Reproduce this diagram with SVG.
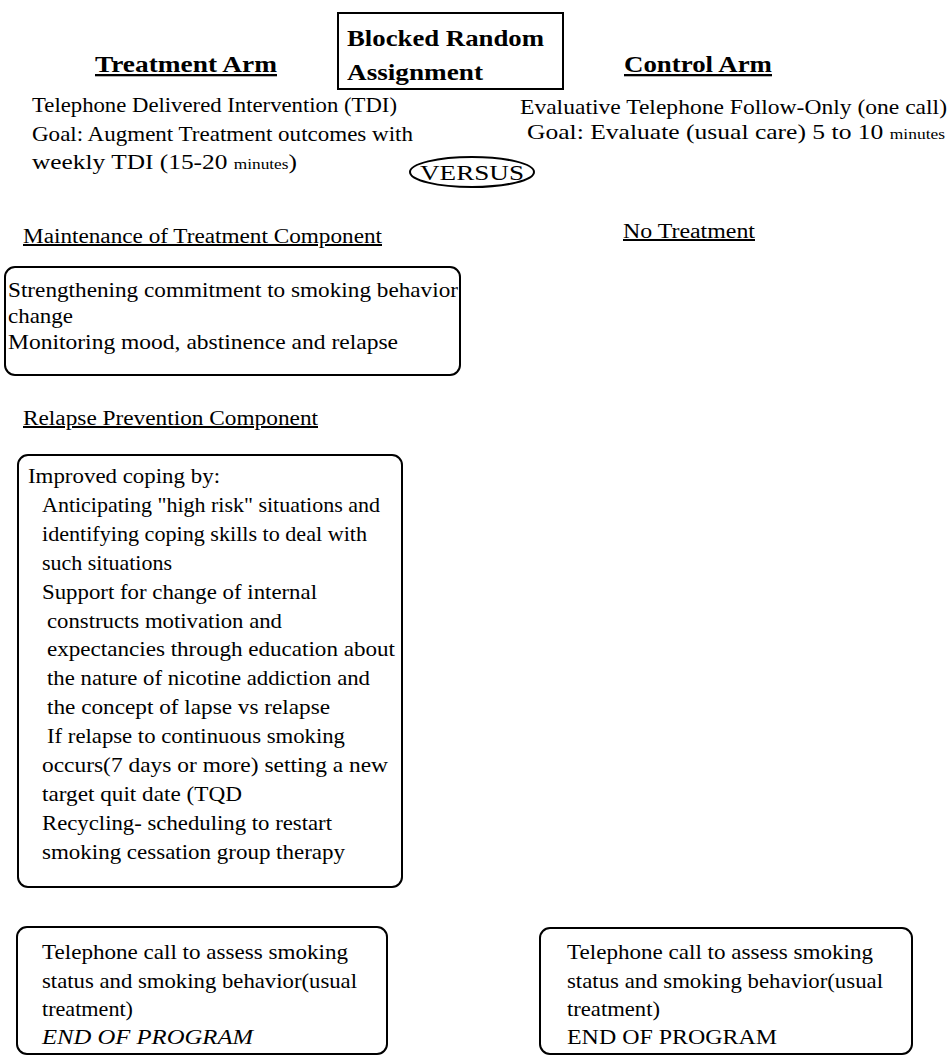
<svg xmlns="http://www.w3.org/2000/svg" width="950" height="1056" viewBox="0 0 950 1056">
  <style>
    text { font-family: "Liberation Serif", "Times New Roman", serif; fill: #000; }
    .body { font-size: 22px; }
    .head { font-size: 23px; font-weight: bold; text-decoration: underline; }
    .title { font-size: 24px; font-weight: bold; }
    .sub { font-size: 20px; text-decoration: underline; }
    .small { font-size: 15px; }
    .box { fill: #fff; stroke: #000; stroke-width: 2; }
  </style>
  <rect width="950" height="1056" fill="#fff"/>

  <!-- central assignment box -->
  <g id="assignment">
    <rect x="338" y="13" width="225" height="76" fill="#fff" stroke="#000" stroke-width="2"/>
    <text class="title" x="347" y="46" textLength="197" lengthAdjust="spacingAndGlyphs">Blocked Random</text>
    <text class="title" x="347" y="80" textLength="136" lengthAdjust="spacingAndGlyphs">Assignment</text>
  </g>

  <!-- arm headings -->
  <g id="treatment-arm">
    <text class="head" x="95" y="72" textLength="182" lengthAdjust="spacingAndGlyphs">Treatment Arm</text>
    <text class="body" x="32" y="112" textLength="365" lengthAdjust="spacingAndGlyphs">Telephone Delivered Intervention (TDI)</text>
    <text class="body" x="32" y="141" textLength="381" lengthAdjust="spacingAndGlyphs">Goal:  Augment Treatment outcomes with</text>
    <text class="body" x="32" y="169" textLength="265" lengthAdjust="spacingAndGlyphs">weekly TDI (15-20 <tspan class="small">minutes</tspan>)</text>
  </g>

  <g id="control-arm">
    <text class="head" x="624" y="72" textLength="148" lengthAdjust="spacingAndGlyphs">Control Arm</text>
    <text class="body" x="520" y="114" textLength="427" lengthAdjust="spacingAndGlyphs">Evaluative Telephone Follow-Only  (one call)</text>
    <text class="body" x="527" y="139" textLength="418" lengthAdjust="spacingAndGlyphs">Goal:  Evaluate (usual care)  5 to 10 <tspan class="small">minutes</tspan></text>
  </g>

  <g id="versus">
    <ellipse cx="472" cy="172" rx="62" ry="15" fill="#fff" stroke="#000" stroke-width="2"/>
    <text class="body" x="472" y="180" text-anchor="middle" font-size="20" textLength="104" lengthAdjust="spacingAndGlyphs">VERSUS</text>
  </g>

  <!-- section labels -->
  <g id="maintenance-label">
    <text class="sub" x="23" y="243" textLength="359" lengthAdjust="spacingAndGlyphs">Maintenance of Treatment Component</text>
  </g>
  <g id="no-treatment">
    <text class="sub" x="623" y="238" textLength="132" lengthAdjust="spacingAndGlyphs">No Treatment</text>
  </g>

  <g id="maintenance">
    <rect class="box" x="5" y="267" width="455" height="108" rx="10"/>
    <text class="body" x="8" y="297" textLength="450" lengthAdjust="spacingAndGlyphs">Strengthening commitment to smoking behavior</text>
    <text class="body" x="8" y="323" textLength="65" lengthAdjust="spacingAndGlyphs">change</text>
    <text class="body" x="8" y="349" textLength="390" lengthAdjust="spacingAndGlyphs">Monitoring mood, abstinence and relapse</text>
  </g>

  <g id="relapse-label">
    <text class="sub" x="23" y="425" textLength="295" lengthAdjust="spacingAndGlyphs">Relapse Prevention Component</text>
  </g>

  <g id="relapse-prevention">
    <rect class="box" x="18" y="455" width="384" height="432" rx="10"/>
    <text class="body" x="28" y="483" textLength="192" lengthAdjust="spacingAndGlyphs">Improved coping by:</text>
    <text class="body" x="42" y="511.9" textLength="338" lengthAdjust="spacingAndGlyphs">Anticipating "high risk" situations and</text>
    <text class="body" x="42" y="540.8" textLength="325" lengthAdjust="spacingAndGlyphs">identifying coping skills to deal with</text>
    <text class="body" x="42" y="569.7" textLength="130" lengthAdjust="spacingAndGlyphs">such situations</text>
    <text class="body" x="42" y="598.6" textLength="275" lengthAdjust="spacingAndGlyphs">Support for change of internal</text>
    <text class="body" x="47" y="627.5" textLength="235" lengthAdjust="spacingAndGlyphs">constructs motivation and</text>
    <text class="body" x="47" y="656.4" textLength="348" lengthAdjust="spacingAndGlyphs">expectancies through education about</text>
    <text class="body" x="47" y="685.3" textLength="323" lengthAdjust="spacingAndGlyphs">the nature of nicotine addiction and</text>
    <text class="body" x="47" y="714.2" textLength="283" lengthAdjust="spacingAndGlyphs">the concept of lapse vs relapse</text>
    <text class="body" x="47" y="743.1" textLength="298" lengthAdjust="spacingAndGlyphs">If relapse to continuous smoking</text>
    <text class="body" x="42" y="772" textLength="346" lengthAdjust="spacingAndGlyphs">occurs(7 days or more) setting a new</text>
    <text class="body" x="42" y="800.9" textLength="200" lengthAdjust="spacingAndGlyphs">target quit date (TQD</text>
    <text class="body" x="42" y="829.8" textLength="290" lengthAdjust="spacingAndGlyphs">Recycling- scheduling to restart</text>
    <text class="body" x="42" y="858.7" textLength="303" lengthAdjust="spacingAndGlyphs">smoking cessation group therapy</text>
  </g>

  <g id="treatment-end">
    <rect class="box" x="17" y="927" width="370" height="127" rx="10"/>
    <text class="body" x="42" y="959" textLength="306" lengthAdjust="spacingAndGlyphs">Telephone call to assess smoking</text>
    <text class="body" x="42" y="988" textLength="315" lengthAdjust="spacingAndGlyphs">status and smoking behavior(usual</text>
    <text class="body" x="42" y="1016" textLength="91" lengthAdjust="spacingAndGlyphs">treatment)</text>
    <text class="body" x="42" y="1044" font-style="italic" textLength="211" lengthAdjust="spacingAndGlyphs">END OF PROGRAM</text>
  </g>

  <g id="control-end">
    <rect class="box" x="540" y="928" width="372" height="126" rx="10"/>
    <text class="body" x="567" y="959" textLength="306" lengthAdjust="spacingAndGlyphs">Telephone call to assess smoking</text>
    <text class="body" x="567" y="988" textLength="316" lengthAdjust="spacingAndGlyphs">status and smoking behavior(usual</text>
    <text class="body" x="567" y="1016" textLength="93" lengthAdjust="spacingAndGlyphs">treatment)</text>
    <text class="body" x="567" y="1044" textLength="210" lengthAdjust="spacingAndGlyphs">END OF PROGRAM</text>
  </g>

  <!-- no connectors are drawn between the blocks -->
  <g id="connectors"/>
</svg>
